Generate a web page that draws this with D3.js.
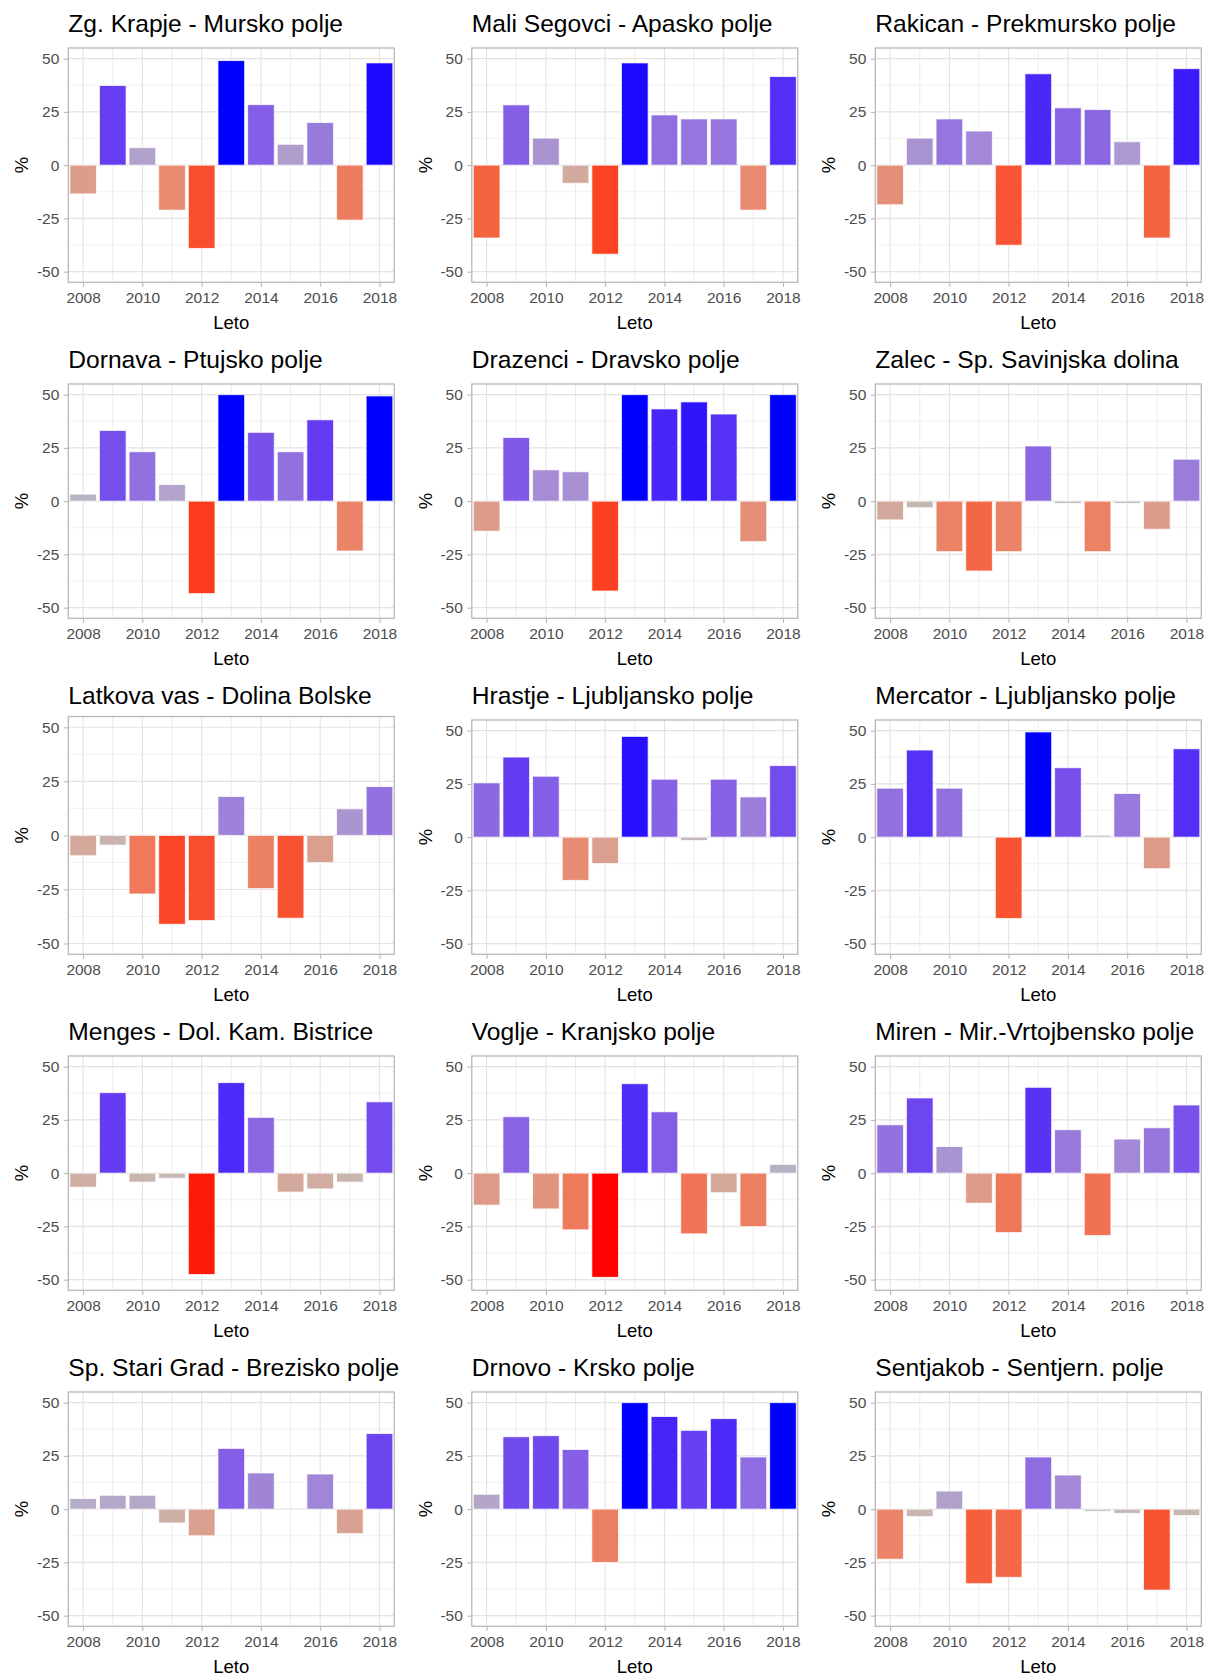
<!DOCTYPE html>
<html>
<head>
<meta charset="utf-8">
<script src="https://cdn.jsdelivr.net/npm/d3@7/dist/d3.min.js"></script>
<style>
  html, body { margin: 0; padding: 0; background: #ffffff; }
  svg { display: block; }
  text { font-family: "Liberation Sans", Arial, sans-serif; }
</style>
</head>
<body>
<svg id="chart" width="1205" height="1679"></svg>
<script>
// Years on the x axis and the axis breaks
const years = [2008, 2009, 2010, 2011, 2012, 2013, 2014, 2015, 2016, 2017, 2018];
const xTicks = [2008, 2010, 2012, 2014, 2016, 2018];
const yTicks = [-50, -25, 0, 25, 50];
const yMinor = [-37.5, -12.5, 12.5, 37.5];
const xMinor = [2009, 2011, 2013, 2015, 2017];

// Station titles, in panel order (row by row)
const titles = [
  "Zg. Krapje - Mursko polje", "Mali Segovci - Apasko polje", "Rakican - Prekmursko polje",
  "Dornava - Ptujsko polje", "Drazenci - Dravsko polje", "Zalec - Sp. Savinjska dolina",
  "Latkova vas - Dolina Bolske", "Hrastje - Ljubljansko polje", "Mercator - Ljubljansko polje",
  "Menges - Dol. Kam. Bistrice", "Voglje - Kranjsko polje", "Miren - Mir.-Vrtojbensko polje",
  "Sp. Stari Grad - Brezisko polje", "Drnovo - Krsko polje", "Sentjakob - Sentjern. polje"
];

// Yearly deviation (%) per station, 2008-2018 (null = no value)
const zgKrapje     = [-13.5, 37.4, 8.2, -21.1, -39.1, 49.1, 28.4, 9.8, 20.0, -25.8, 48.0];
const maliSegovci  = [-34.2, 28.3, 12.7, -8.5, -41.8, 48.0, 23.6, 21.7, 21.7, -21.1, 41.6];
const rakican      = [-18.6, 12.7, 21.7, 16.0, -37.6, 42.9, 26.9, 26.1, 11.0, -34.2, 45.3];
const dornava      = [3.3, 33.2, 23.2, 7.8, -43.4, 50.0, 32.3, 23.2, 38.2, -23.4, 49.4];
const drazenci     = [-14.1, 29.9, 14.7, 13.8, -42.2, 50.0, 43.3, 46.6, 40.9, -19.0, 50.0];
const zalec        = [-8.8, -3.1, -23.7, -32.8, -23.7, 25.9, -1.1, -23.7, -1.1, -13.2, 19.7];
const latkovaVas   = [-9.4, -4.5, -27.1, -41.1, -39.4, 18.0, -24.6, -38.3, -12.6, 12.3, 22.6];
const hrastje      = [25.5, 37.6, 28.6, -20.3, -12.4, 47.3, 27.2, -1.6, 27.2, 18.9, 33.6];
const mercator     = [23.0, 40.9, 23.0, null, -38.2, 49.4, 32.6, 0.9, 20.5, -14.8, 41.5];
const menges       = [-6.6, 37.8, -4.2, -2.4, -47.6, 42.5, 26.2, -8.9, -7.4, -4.2, 33.5];
const voglje       = [-15.0, 26.5, -16.8, -26.6, -48.9, 42.0, 28.8, -28.5, -9.2, -25.1, 4.1];
const miren        = [22.7, 35.3, 12.5, -14.1, -27.9, 40.3, 20.4, -29.3, 16.0, 21.3, 32.0];
const spStariGrad  = [5.0, 6.5, 6.5, -6.5, -12.5, 28.5, 17.0, null, 16.5, -11.5, 35.5];
const drnovo       = [7.0, 34.0, 34.5, 28.0, -25.0, 50.0, 43.5, 37.0, 42.5, 24.5, 50.0];
const sentjakob    = [-23.5, -3.5, 8.5, -35.0, -32.0, 24.5, 16.0, -1.0, -2.0, -38.0, -3.0];

const series = [zgKrapje, maliSegovci, rakican, dornava, drazenci, zalec,
                latkovaVas, hrastje, mercator, menges, voglje, miren,
                spStariGrad, drnovo, sentjakob];

// Diverging fill: red below zero, grey at zero, blue above (Lab interpolation)
const MID = "#bebebe";
const toRed = d3.interpolateLab(MID, "#ff0000");
const toBlue = d3.interpolateLab(MID, "#0000ff");
const fillLimit = 49;
function fillFor(v) {
  const t = Math.min(Math.abs(v) / fillLimit, 1);
  return v < 0 ? toRed(t) : toBlue(t);
}

// Panel grid geometry
const nCols = 3;
const colLeft0 = 68.3, colStep = 403.5;
const rowStep = 336;
const plotW = 326;
const titleBaselineOff = 32;
const plotBottomOff = 282.3;

const svg = d3.select("#chart");
const fmt = d => String(d);

series.forEach((vals, i) => {
  const row = Math.floor(i / nCols), col = i % nCols;
  const rowTop = row * rowStep;
  const left = colLeft0 + col * colStep;
  const title = titles[i];
  // Title block height follows the title's descenders
  const hasDesc = /[gjpqy]/.test(title);
  const baseline = rowTop + titleBaselineOff;
  const top = baseline + (hasDesc ? 16 : 12.5);
  const bottom = rowTop + plotBottomOff;
  const h = bottom - top;

  const x = d3.scaleLinear().domain([2007.5, 2018.5]).range([0, plotW]);
  const y = d3.scaleLinear().domain([-55, 55]).range([h, 0]);

  const g = svg.append("g").attr("transform", `translate(${left},${top})`);

  // Title
  svg.append("text")
    .attr("x", left).attr("y", baseline)
    .attr("font-size", 24.6).attr("fill", "#000")
    .text(title);

  // Grid lines
  const grid = g.append("g");
  grid.selectAll("line.ymin").data(yMinor).join("line")
    .attr("x1", 0).attr("x2", plotW)
    .attr("y1", d => y(d)).attr("y2", d => y(d))
    .attr("stroke", "#efefef").attr("stroke-width", 0.8);
  grid.selectAll("line.xmin").data(xMinor).join("line")
    .attr("y1", 0).attr("y2", h)
    .attr("x1", d => x(d)).attr("x2", d => x(d))
    .attr("stroke", "#e8e8e8").attr("stroke-width", 0.8);
  grid.selectAll("line.ymaj").data(yTicks).join("line")
    .attr("x1", 0).attr("x2", plotW)
    .attr("y1", d => y(d)).attr("y2", d => y(d))
    .attr("stroke", "#e3e3e3").attr("stroke-width", 1.1);
  grid.selectAll("line.xmaj").data(xTicks).join("line")
    .attr("y1", 0).attr("y2", h)
    .attr("x1", d => x(d)).attr("x2", d => x(d))
    .attr("stroke", "#e3e3e3").attr("stroke-width", 1.1);

  // Bars
  const data = years.map((yr, k) => ({ year: yr, value: vals[k] }))
    .filter(d => d.value !== null);
  const bw = x(0.9) - x(0);
  g.append("g").selectAll("rect").data(data).join("rect")
    .attr("x", d => x(d.year) - bw / 2)
    .attr("width", bw)
    .attr("y", d => y(Math.max(0, d.value)))
    .attr("height", d => Math.abs(y(d.value) - y(0)))
    .attr("fill", d => fillFor(d.value))
    .attr("stroke", "#ffffff").attr("stroke-opacity", 0.75).attr("stroke-width", 1);

  // Axes
  const yAxis = d3.axisLeft(y).tickValues(yTicks).tickSize(4.5).tickPadding(4.5).tickFormat(fmt);
  const xAxis = d3.axisBottom(x).tickValues(xTicks).tickSize(4.5).tickPadding(5).tickFormat(fmt);
  const ya = g.append("g").call(yAxis);
  const xa = g.append("g").attr("transform", `translate(0,${h})`).call(xAxis);
  [ya, xa].forEach(a => {
    a.select(".domain").remove();
    a.selectAll(".tick line").attr("stroke", "#b3b3b3").attr("stroke-width", 1);
    a.selectAll(".tick text")
      .attr("fill", "#4d4d4d").attr("font-size", 15.5)
      .attr("font-family", "Liberation Sans, Arial, sans-serif");
  });

  // Panel border
  g.append("rect")
    .attr("x", 0).attr("y", 0).attr("width", plotW).attr("height", h)
    .attr("fill", "none").attr("stroke", "#b8b8b8").attr("stroke-width", 1.3);

  // Axis titles
  g.append("text")
    .attr("x", plotW / 2).attr("y", h + 46.5)
    .attr("text-anchor", "middle").attr("font-size", 18.5).attr("fill", "#000")
    .text("Leto");
  g.append("text")
    .attr("transform", `translate(-40,${h / 2}) rotate(-90)`)
    .attr("text-anchor", "middle").attr("font-size", 18.5).attr("fill", "#000")
    .text("%");
});
</script>
</body>
</html>
